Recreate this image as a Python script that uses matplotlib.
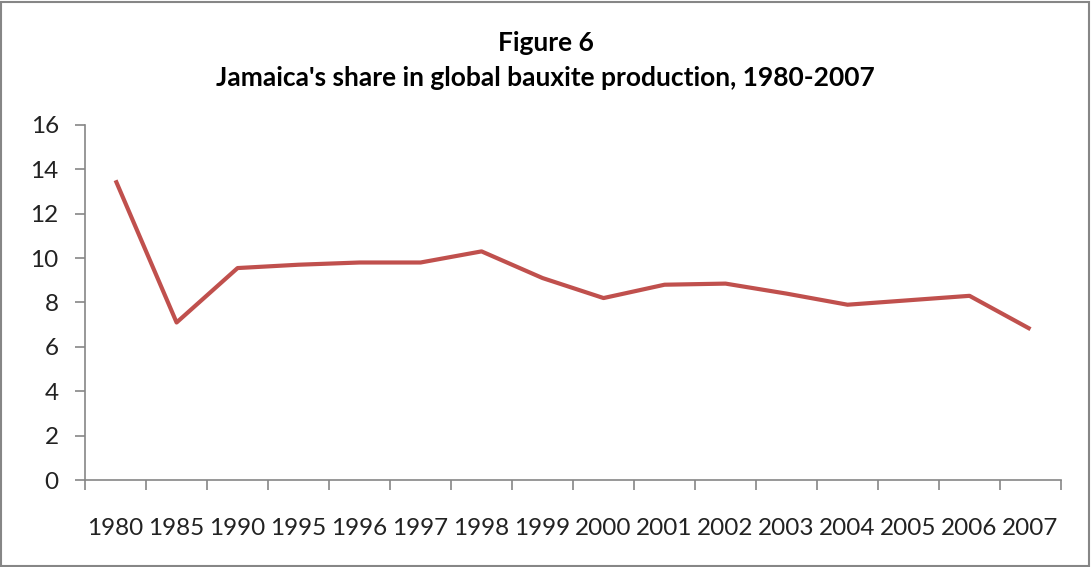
import matplotlib.pyplot as plt
from matplotlib.patches import Rectangle
import numpy as np

years = ['1980', '1985', '1990', '1995', '1996', '1997', '1998', '1999',
         '2000', '2001', '2002', '2003', '2004', '2005', '2006', '2007']
share = [13.5, 7.1, 9.55, 9.7, 9.8, 9.8, 10.3, 9.1,
         8.2, 8.8, 8.85, 8.4, 7.9, 8.1, 8.3, 6.8]

plt.rcParams['font.family'] = ['Lato', 'DejaVu Sans']
grey = '#868686'

fig = plt.figure(figsize=(10.91, 5.67), dpi=100)
ax = fig.add_axes([0.078, 0.153, 0.8945, 0.627])

x = np.arange(len(years))
ax.plot(x, share, color='#C0504D', lw=3, solid_joinstyle='round', solid_capstyle='butt')

ax.set_xlim(-0.5, len(years) - 0.5)
ax.set_ylim(0, 16)
ax.set_yticks(range(0, 17, 2))

# category labels sit between the boundary tick marks
ax.set_xticks(np.arange(-0.5, len(years), 1))
ax.set_xticklabels([])
ax.set_xticks(x, minor=True)
ax.set_xticklabels(years, minor=True)
ax.tick_params(axis='x', which='major', length=7, width=1.2, color=grey, direction='out')
ax.tick_params(axis='x', which='minor', length=0, pad=27, labelsize=17.5, labelcolor='#222222')
ax.tick_params(axis='y', length=7, width=1.2, color=grey, pad=12, labelsize=17.5,
               labelcolor='#222222')

for s in ['top', 'right']:
    ax.spines[s].set_visible(False)
for s in ['left', 'bottom']:
    ax.spines[s].set_color(grey)
    ax.spines[s].set_linewidth(1.2)

fig.text(0.5, 0.925, 'Figure 6', ha='center', va='center', fontsize=19, fontweight='bold')
fig.text(0.5, 0.862, "Jamaica's share in global bauxite production, 1980-2007",
         ha='center', va='center', fontsize=19, fontweight='bold')

fig.patches.append(Rectangle((0.001, 0.002), 0.997, 0.995, transform=fig.transFigure,
                             fill=False, edgecolor=grey, lw=1.5))

fig.savefig('out.png', dpi=100)
